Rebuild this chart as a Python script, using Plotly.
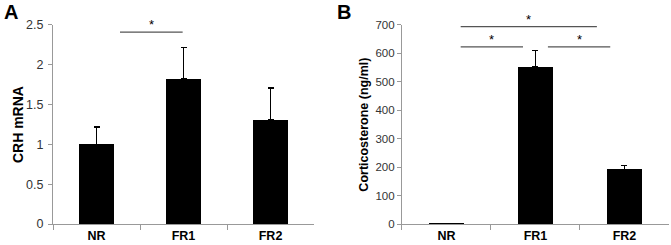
import plotly.graph_objects as go

categories = ["NR", "FR1", "FR2"]
crh_mrna = [1.0, 1.82, 1.31]
crh_err = [0.22, 0.40, 0.40]
cort = [2, 553, 192]
cort_err = [1, 57, 13]

# significance comparisons: (x0, x1, y) in category units / data units
sig_a = [(0.27, 0.99, 2.41)]
sig_b = [(0.16, 1.69, 694), (0.16, 0.86, 623), (1.14, 1.84, 623)]

FONT = "Liberation Sans, Arial, sans-serif"
fig = go.Figure()
fig.add_trace(go.Bar(x=categories, y=crh_mrna, width=0.4, marker=dict(color="black", line=dict(width=0)),
                     error_y=dict(type="data", array=crh_err, arrayminus=[0]*3, symmetric=False,
                                  color="black", thickness=1.3, width=3),
                     xaxis="x", yaxis="y", showlegend=False))
fig.add_trace(go.Bar(x=categories, y=cort, width=0.4, marker=dict(color="black", line=dict(width=0)),
                     error_y=dict(type="data", array=cort_err, arrayminus=[0]*3, symmetric=False,
                                  color="black", thickness=1.3, width=3),
                     xaxis="x2", yaxis="y2", showlegend=False))

axcol = "#999999"
xcommon = dict(type="category", range=[-0.5, 2.5], showline=True, linecolor=axcol, linewidth=1,
               ticks="outside", tickson="boundaries", ticklen=5, tickcolor=axcol,
               tickfont=dict(family=FONT, size=12.5, color="black", weight="bold"),
               showgrid=False, zeroline=False, automargin=False)
ycommon = dict(showline=True, linecolor=axcol, linewidth=1, ticks="outside", ticklen=4,
               tickcolor=axcol, showgrid=False, zeroline=False, automargin=False)

fig.update_layout(
    width=671, height=245, margin=dict(l=0, r=0, t=0, b=0, autoexpand=False),
    plot_bgcolor="white", paper_bgcolor="white", bargap=0,
    xaxis=dict(domain=[0.079, 0.468], anchor="y", **xcommon),
    xaxis2=dict(domain=[0.599, 0.997], anchor="y2", **xcommon),
    yaxis=dict(domain=[0.0857, 0.898], anchor="x", range=[0, 2.5], dtick=0.5,
               tickfont=dict(family=FONT, size=12.5, color="#333333"), ticklabelstandoff=2, **ycommon),
    yaxis2=dict(domain=[0.0857, 0.898], anchor="x2", range=[0, 700], dtick=100,
                tickfont=dict(family=FONT, size=11.5, color="#333333"), **ycommon),
)

shapes = []
annots = []
for (x0, x1, y) in sig_a:
    shapes.append(dict(type="line", xref="x", yref="y", x0=x0, x1=x1, y0=y, y1=y,
                       line=dict(color="#555555", width=1.2)))
    annots.append(dict(xref="x", yref="y", x=(x0 + x1) / 2, y=y, text="*", showarrow=False,
                       yanchor="bottom", yshift=-2, font=dict(family=FONT, size=13, color="black")))
for (x0, x1, y) in sig_b:
    shapes.append(dict(type="line", xref="x2", yref="y2", x0=x0, x1=x1, y0=y, y1=y,
                       line=dict(color="#555555", width=1.2)))
    annots.append(dict(xref="x2", yref="y2", x=(x0 + x1) / 2, y=y, text="*", showarrow=False,
                       yanchor="bottom", yshift=-2, font=dict(family=FONT, size=13, color="black")))

annots += [
    dict(xref="paper", yref="paper", x=0.007, y=0.995, text="<b>A</b>", showarrow=False,
         xanchor="left", yanchor="top", xshift=-3, yshift=2, font=dict(family=FONT, size=20, color="black")),
    dict(xref="paper", yref="paper", x=0.503, y=0.995, text="<b>B</b>", showarrow=False,
         xanchor="left", yanchor="top", xshift=-3, yshift=2, font=dict(family=FONT, size=20, color="black")),
    dict(xref="paper", yref="paper", x=0.027, y=0.49, text="<b>CRH mRNA</b>", showarrow=False,
         textangle=-90, xanchor="center", yanchor="middle", font=dict(family=FONT, size=14, color="black")),
    dict(xref="paper", yref="paper", x=0.542, y=0.49, text="<b>Corticosterone (ng/ml)</b>", showarrow=False,
         textangle=-90, xanchor="center", yanchor="middle", font=dict(family=FONT, size=12.5, color="black")),
]
fig.update_layout(shapes=shapes, annotations=annots)
fig.write_html("out.html", config={"displayModeBar": False},
               post_script="document.body.style.margin='0';document.body.style.overflow='hidden';")
